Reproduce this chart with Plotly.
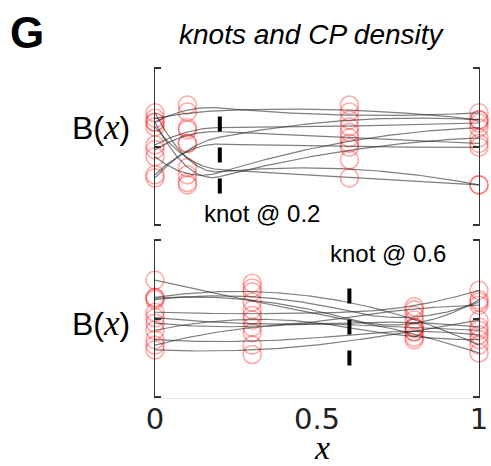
import numpy as np
import plotly.graph_objects as go

# ---------------- data ----------------
# Panel 1: quadratic B-spline, single interior knot at 0.2, CPs at Greville abscissae
knot_top = 0.2
cp_x_top = [0.0, 0.1, 0.6, 1.0]
cp_top = [
    [0.31, 0.53, 0.34, 0.43],
    [0.36, 0.44, 0.53, 0.34],
    [0.31, -0.49, 0.04, 0.11],
    [0.43, -0.36, -0.17, -0.49],
    [0.25, -0.27, -0.40, -0.49],
    [0.02, 0.24, 0.25, 0.30],
    [-0.04, 0.21, 0.11, 0.04],
    [-0.36, 0.04, -0.01, -0.01],
    [-0.13, -0.46, 0.18, 0.24],
    [-0.40, 0.04, 0.44, 0.34],
]
# Panel 2: knot at 0.6
knot_bot = 0.6
cp_x_bot = [0.0, 0.3, 0.8, 1.0]
cp_bot = [
    [0.49, 0.21, -0.17, -0.44],
    [0.27, 0.45, 0.04, -0.34],
    [0.26, 0.34, -0.24, 0.24],
    [0.24, 0.39, -0.11, 0.21],
    [0.08, 0.04, 0.11, 0.36],
    [0.01, -0.11, -0.02, -0.11],
    [-0.06, -0.18, 0.15, 0.17],
    [-0.15, 0.11, -0.27, -0.27],
    [-0.27, -0.34, -0.12, -0.21],
    [-0.34, -0.02, -0.12, -0.15],
    [-0.40, -0.46, -0.17, -0.02],
]
knot_marker_span = [-0.6, 0.42]
x_ticks = [0, 0.5, 1]
x_tick_labels = ["0", "0.5", "1"]


def bspline_basis(x, knots, i, p):
    if p == 0:
        last = knots[i + 1] == knots[-1]
        if last:
            return ((x >= knots[i]) & (x <= knots[i + 1])).astype(float)
        return ((x >= knots[i]) & (x < knots[i + 1])).astype(float)
    out = np.zeros_like(x)
    d1 = knots[i + p] - knots[i]
    if d1 > 0:
        out += (x - knots[i]) / d1 * bspline_basis(x, knots, i, p - 1)
    d2 = knots[i + p + 1] - knots[i + 1]
    if d2 > 0:
        out += (knots[i + p + 1] - x) / d2 * bspline_basis(x, knots, i + 1, p - 1)
    return out


def curve(cps, k):
    knots = [0, 0, 0, k, 1, 1, 1]
    xs = np.linspace(0, 1, 201)
    ys = sum(c * bspline_basis(xs, knots, i, 2) for i, c in enumerate(cps))
    return xs, ys


fig = go.Figure()

panels = [
    (cp_x_top, cp_top, knot_top, "x", "y"),
    (cp_x_bot, cp_bot, knot_bot, "x2", "y2"),
]
for cpx, cps, k, xa, ya in panels:
    mx, my = [], []
    for cp in cps:
        mx += cpx
        my += cp
    fig.add_trace(go.Scatter(
        x=mx, y=my, mode="markers", xaxis=xa, yaxis=ya, cliponaxis=False,
        marker=dict(symbol="circle-open", size=18, color="rgba(255,30,30,0.38)",
                    line=dict(width=1.6, color="rgba(255,30,30,0.38)")),
        showlegend=False, hoverinfo="skip"))
    for cp in cps:
        xs, ys = curve(cp, k)
        fig.add_trace(go.Scatter(
            x=xs, y=ys, mode="lines", xaxis=xa, yaxis=ya, cliponaxis=False,
            line=dict(color="rgba(40,40,40,0.6)", width=1.2),
            showlegend=False, hoverinfo="skip"))
    fig.add_trace(go.Scatter(
        x=[k, k], y=knot_marker_span, mode="lines", xaxis=xa, yaxis=ya,
        line=dict(color="black", width=4, dash="15px,16px"),
        showlegend=False, hoverinfo="skip"))

W, H = 491, 466
xd = [155 / W, 479 / W]
yaxis_common = dict(range=[-1.015, 1.015], showline=True, linecolor="#333", linewidth=1.3,
                    mirror="allticks", ticks="inside", ticklen=6, tickcolor="#333",
                    tickwidth=1.5, tickvals=[-1, 0, 1], showticklabels=False,
                    showgrid=False, zeroline=False, fixedrange=True, automargin=False)
fig.update_layout(
    width=W, height=H, margin=dict(l=0, r=0, t=0, b=0, autoexpand=False),
    paper_bgcolor="white", plot_bgcolor="white",
    xaxis=dict(domain=xd, range=[0, 1], anchor="y", showline=False, showgrid=False,
               zeroline=False, showticklabels=False, ticks="", automargin=False),
    yaxis=dict(domain=[1 - 226 / H, 1 - 67 / H], anchor="x", **yaxis_common),
    xaxis2=dict(domain=xd, range=[0, 1], anchor="y2", showline=True, linecolor="#e8e8e8",
                linewidth=1, showgrid=False, zeroline=False, ticks="",
                tickvals=x_ticks, ticktext=x_tick_labels, automargin=False,
                ticklabelstandoff=-5,
                tickfont=dict(family="DejaVu Sans", size=29, color="#222")),
    yaxis2=dict(domain=[1 - 398 / H, 1 - 239 / H], anchor="x2", **yaxis_common),
)


def px(xp, yp):
    return xp / W, 1 - yp / H


annots = [
    ("<b>G</b>", 27, 32, dict(family="Liberation Sans", size=44, color="black")),
    ("<i>knots and CP density</i>", 312, 35, dict(family="Liberation Sans", size=28, color="black")),
    ("knot @ 0.2", 262, 213, dict(family="Liberation Sans", size=24, color="black")),
    ("knot @ 0.6", 388, 253, dict(family="Liberation Sans", size=24, color="black")),
    ("B(<span style='font-family:Liberation Serif;font-size:35px'><i>x</i></span>)", 101, 127,
     dict(family="Liberation Sans", size=32, color="black")),
    ("B(<span style='font-family:Liberation Serif;font-size:35px'><i>x</i></span>)", 101, 323,
     dict(family="Liberation Sans", size=32, color="black")),
    ("<i>x</i>", 322, 447, dict(family="Liberation Serif", size=34, color="black")),
]
for text, xp, yp, font in annots:
    ax, ay = px(xp, yp)
    fig.add_annotation(text=text, x=ax, y=ay, xref="paper", yref="paper",
                       showarrow=False, xanchor="center", yanchor="middle", font=font)

fig.write_html("out.html")
